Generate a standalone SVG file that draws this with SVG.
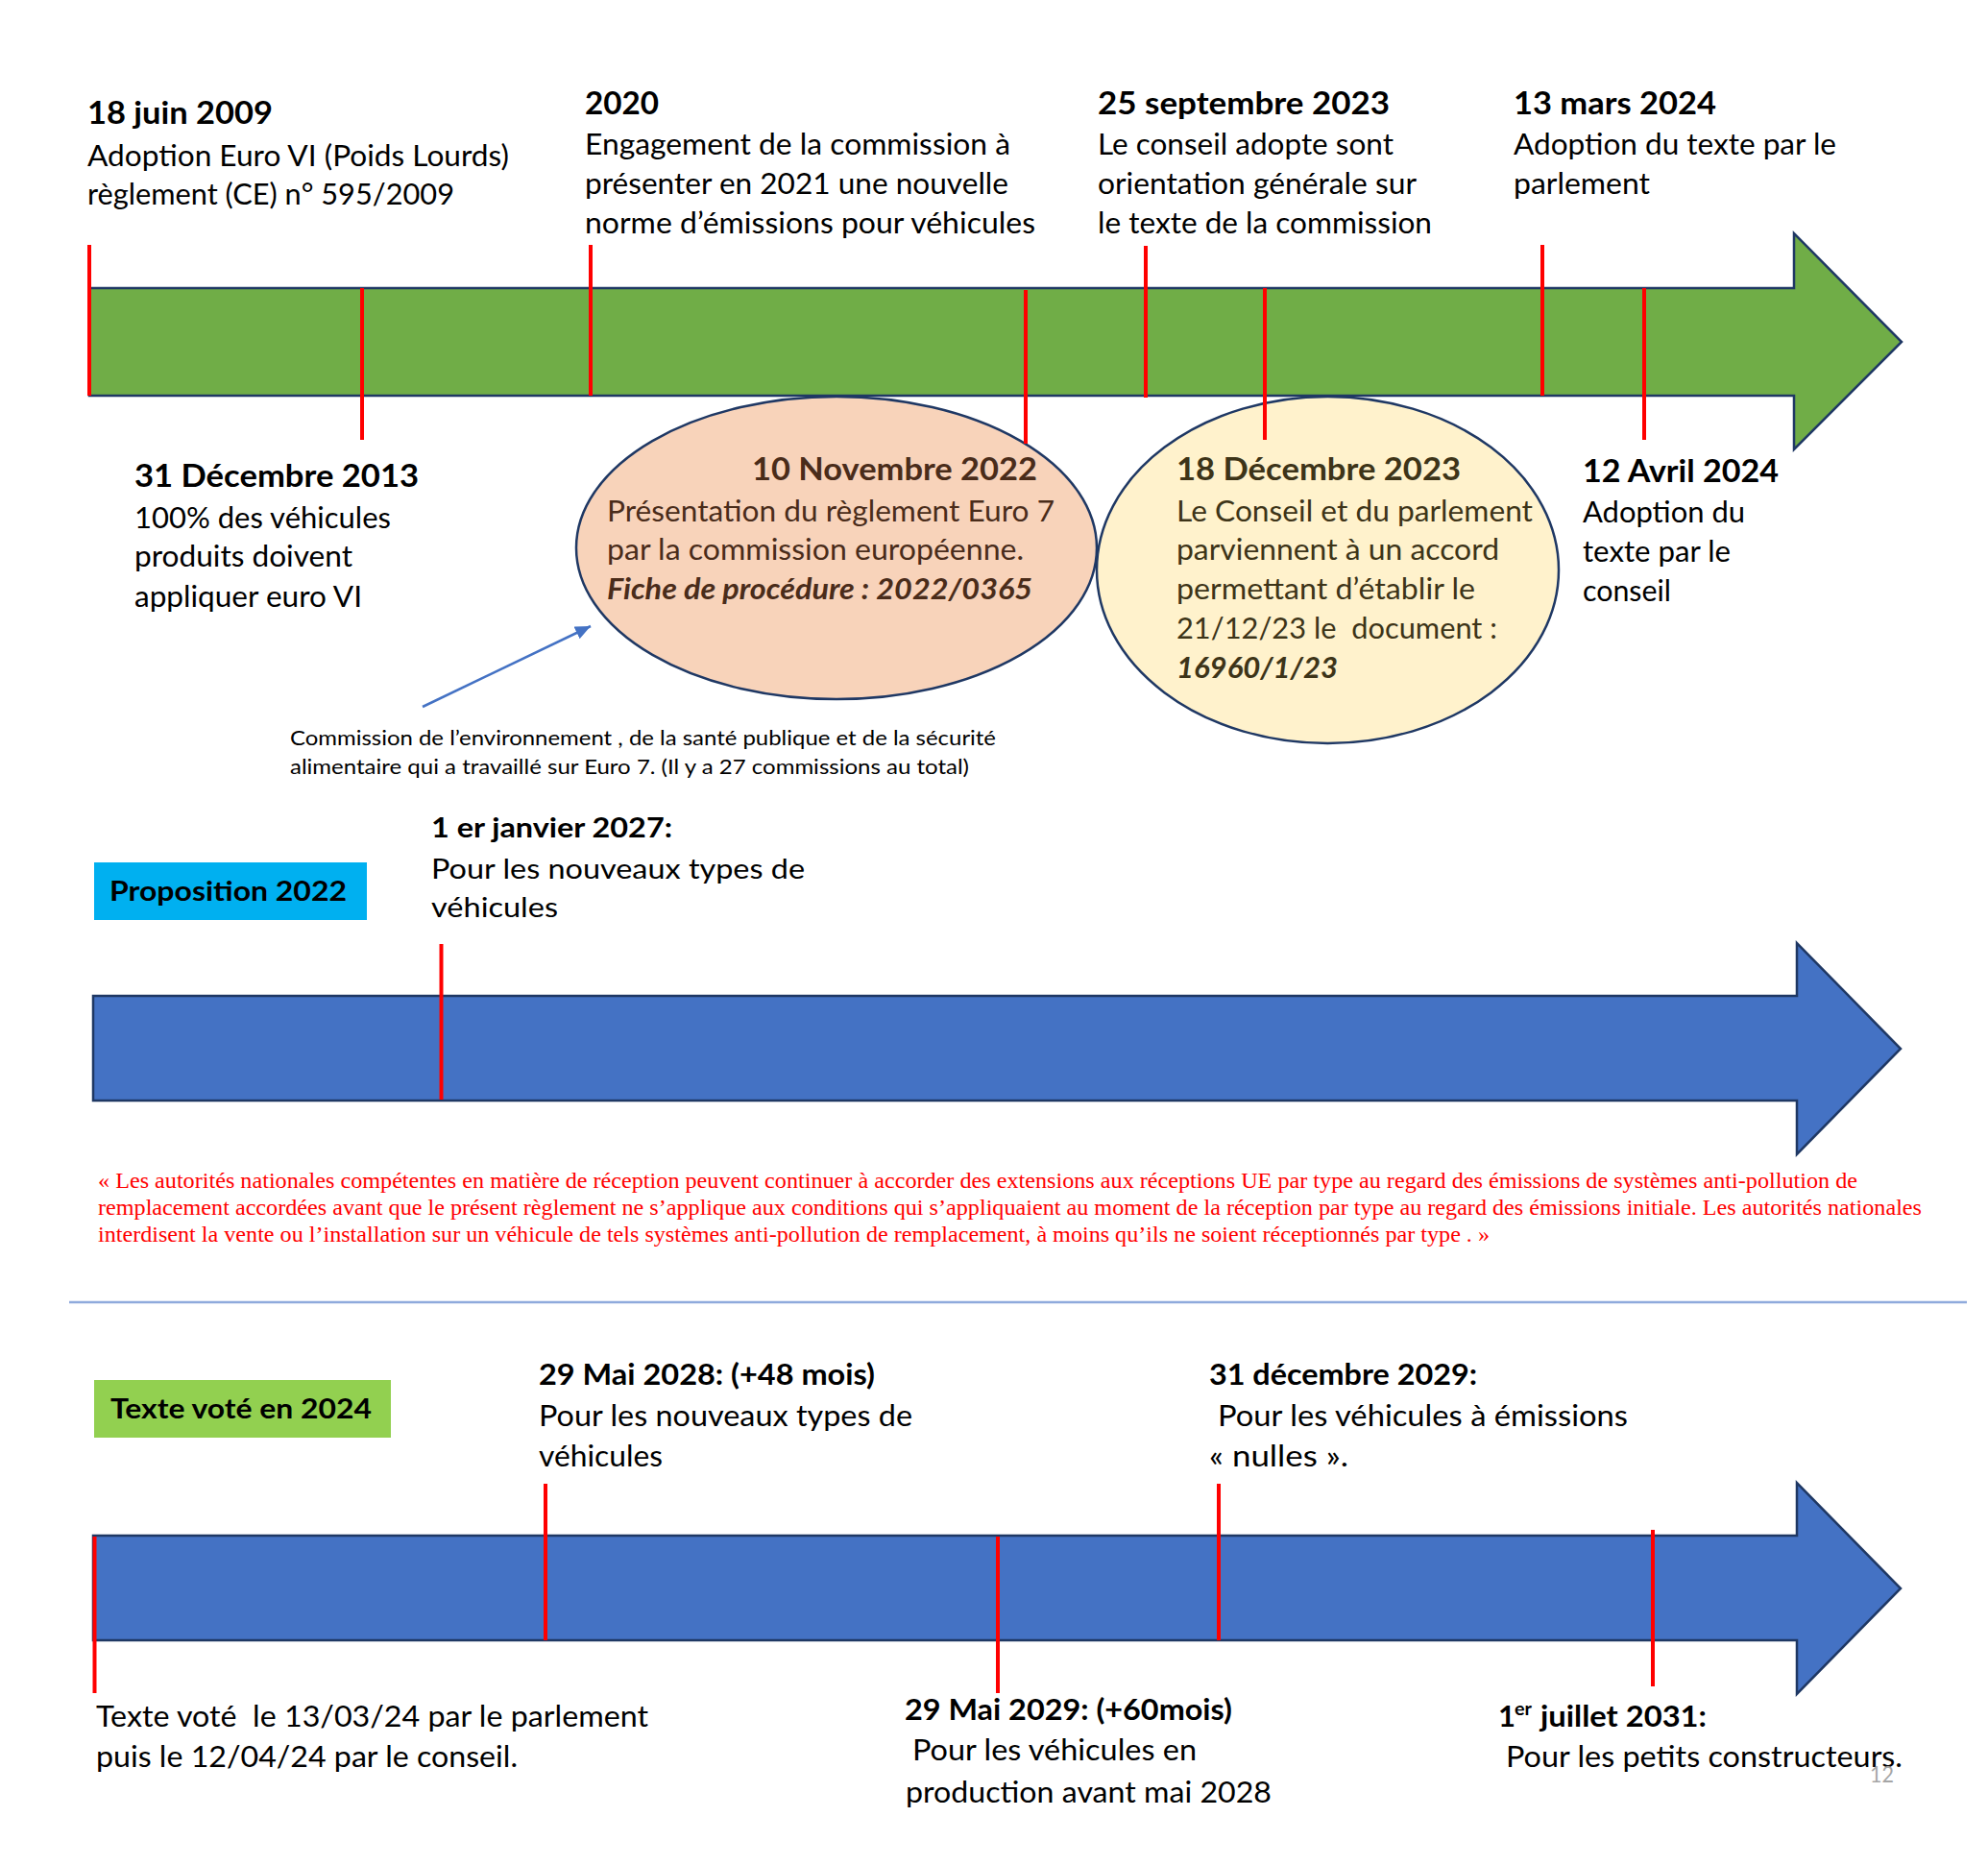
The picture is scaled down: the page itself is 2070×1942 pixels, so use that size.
<svg xmlns="http://www.w3.org/2000/svg" width="2070" height="1942" viewBox="0 0 2070 1942">
<defs>
<style>
.t{font-family:Lato,"Liberation Sans",sans-serif;fill:#000}
.ti{font-size:32px;font-weight:700}
.bd{font-size:30px}
.s2{font-size:28.5px}
.s3t{font-size:31px;font-weight:700}
.sm{font-size:22px}
.bx{font-size:28px;font-weight:700}
.bi{font-weight:700;font-style:italic}
.q{font-family:"Liberation Serif","Times New Roman",serif;font-size:22.5px;fill:#FF0000}
.tick{stroke:#FF0000;stroke-width:4;fill:none}
.arr{stroke:#1F3864;stroke-width:2.5;stroke-linejoin:miter}
.ell{stroke:#1F3864;stroke-width:2.5}
.sal{fill:#4A2C1A}
.yel{fill:#3D3418}
</style>
<marker id="ah" markerUnits="userSpaceOnUse" markerWidth="18" markerHeight="14" refX="16" refY="7" orient="auto">
<path d="M0,0 L16,7 L0,14 Z" fill="#4472C4"/>
</marker>
</defs>
<rect width="2070" height="1942" fill="#FFFFFF"/>

<!-- Timeline 1 (green) -->
<g id="timeline-green">
<path class="arr" d="M93,300 H1868 V243 L1980,356 L1868,468 V412 H93 Z" fill="#70AD47"/>
</g>

<g id="ellipse-nov2022">
<ellipse class="ell" cx="871" cy="570.5" rx="271" ry="157.5" fill="#F8D3BA"/>
<text class="t ti sal" x="783" y="500" textLength="297" lengthAdjust="spacingAndGlyphs">10 Novembre 2022</text>
<text class="t bd sal" x="632" y="543" textLength="466" lengthAdjust="spacingAndGlyphs">Présentation du règlement Euro 7</text>
<text class="t bd sal" x="632" y="583" textLength="434" lengthAdjust="spacingAndGlyphs">par la commission européenne.</text>
<text class="t bd bi sal" x="632" y="624" textLength="443" lengthAdjust="spacingAndGlyphs">Fiche de procédure : 2022/0365</text>
</g>

<g id="ellipse-dec2023">
<ellipse class="ell" cx="1382.5" cy="593.5" rx="240.5" ry="180.5" fill="#FFF2CC"/>
<text class="t ti yel" x="1225" y="500" textLength="296" lengthAdjust="spacingAndGlyphs">18 Décembre 2023</text>
<text class="t bd yel" x="1225" y="543" textLength="371" lengthAdjust="spacingAndGlyphs">Le Conseil et du parlement</text>
<text class="t bd yel" x="1225" y="583" textLength="336" lengthAdjust="spacingAndGlyphs">parviennent à un accord</text>
<text class="t bd yel" x="1225" y="624" textLength="311" lengthAdjust="spacingAndGlyphs">permettant d’établir le</text>
<text class="t bd yel" x="1225" y="665" textLength="334" lengthAdjust="spacingAndGlyphs">21/12/23 le&#160; document :</text>
<text class="t bd bi yel" x="1225" y="706" textLength="168" lengthAdjust="spacingAndGlyphs">16960/1/23</text>
</g>

<g id="ticks-green">
<line class="tick" x1="93" y1="255" x2="93" y2="412"/>
<line class="tick" x1="377" y1="300" x2="377" y2="458"/>
<line class="tick" x1="615" y1="255" x2="615" y2="412"/>
<line class="tick" x1="1068" y1="302" x2="1068" y2="462"/>
<line class="tick" x1="1193" y1="256" x2="1193" y2="414"/>
<line class="tick" x1="1317" y1="300" x2="1317" y2="458"/>
<line class="tick" x1="1606" y1="255" x2="1606" y2="412"/>
<line class="tick" x1="1712" y1="300" x2="1712" y2="458"/>
</g>

<g id="ev-2009">
<text class="t ti" x="91" y="129" textLength="193" lengthAdjust="spacingAndGlyphs">18 juin 2009</text>
<text class="t bd" x="91" y="173" textLength="439" lengthAdjust="spacingAndGlyphs">Adoption Euro VI (Poids Lourds)</text>
<text class="t bd" x="91" y="213" textLength="382" lengthAdjust="spacingAndGlyphs">règlement (CE) n° 595/2009</text>
</g>
<g id="ev-2020">
<text class="t ti" x="609" y="119" textLength="77" lengthAdjust="spacingAndGlyphs">2020</text>
<text class="t bd" x="609" y="161" textLength="443" lengthAdjust="spacingAndGlyphs">Engagement de la commission à</text>
<text class="t bd" x="609" y="202" textLength="441" lengthAdjust="spacingAndGlyphs">présenter en 2021 une nouvelle</text>
<text class="t bd" x="609" y="243" textLength="469" lengthAdjust="spacingAndGlyphs">norme d’émissions pour véhicules</text>
</g>
<g id="ev-sep2023">
<text class="t ti" x="1143" y="119" textLength="304" lengthAdjust="spacingAndGlyphs">25 septembre 2023</text>
<text class="t bd" x="1143" y="161" textLength="308" lengthAdjust="spacingAndGlyphs">Le conseil adopte sont</text>
<text class="t bd" x="1143" y="202" textLength="332" lengthAdjust="spacingAndGlyphs">orientation générale sur</text>
<text class="t bd" x="1143" y="243" textLength="348" lengthAdjust="spacingAndGlyphs">le texte de la commission</text>
</g>
<g id="ev-mar2024">
<text class="t ti" x="1576" y="119" textLength="211" lengthAdjust="spacingAndGlyphs">13 mars 2024</text>
<text class="t bd" x="1576" y="161" textLength="336" lengthAdjust="spacingAndGlyphs">Adoption du texte par le</text>
<text class="t bd" x="1576" y="202" textLength="142" lengthAdjust="spacingAndGlyphs">parlement</text>
</g>
<g id="ev-2013">
<text class="t ti" x="140" y="507" textLength="296" lengthAdjust="spacingAndGlyphs">31 Décembre 2013</text>
<text class="t bd" x="140" y="550" textLength="267" lengthAdjust="spacingAndGlyphs">100% des véhicules</text>
<text class="t bd" x="140" y="590" textLength="227" lengthAdjust="spacingAndGlyphs">produits doivent</text>
<text class="t bd" x="140" y="632" textLength="237" lengthAdjust="spacingAndGlyphs">appliquer euro VI</text>
</g>
<g id="ev-apr2024">
<text class="t ti" x="1648" y="502" textLength="204" lengthAdjust="spacingAndGlyphs">12 Avril 2024</text>
<text class="t bd" x="1648" y="544" textLength="169" lengthAdjust="spacingAndGlyphs">Adoption du</text>
<text class="t bd" x="1648" y="585" textLength="154" lengthAdjust="spacingAndGlyphs">texte par le</text>
<text class="t bd" x="1648" y="626" textLength="92" lengthAdjust="spacingAndGlyphs">conseil</text>
</g>
<g id="note-commission">
<text class="t sm" x="302" y="776" textLength="735" lengthAdjust="spacingAndGlyphs">Commission de l’environnement , de la santé publique et de la sécurité</text>
<text class="t sm" x="302" y="806" textLength="707" lengthAdjust="spacingAndGlyphs">alimentaire qui a travaillé sur Euro 7. (Il y a 27 commissions au total)</text>
</g>

<g id="connectors">
<line x1="440" y1="736" x2="615" y2="652" stroke="#4472C4" stroke-width="2.5" marker-end="url(#ah)"/>
</g>

<!-- Timeline 2 (Proposition 2022) -->
<g id="label-prop2022">
<rect x="98" y="898" width="284" height="60" fill="#00B0F0"/>
<text class="t bx" x="114" y="938" textLength="247" lengthAdjust="spacingAndGlyphs">Proposition 2022</text>
</g>
<g id="ev-jan2027">
<text class="t s2" font-weight="700" x="449" y="872" textLength="251" lengthAdjust="spacingAndGlyphs">1 er janvier 2027:</text>
<text class="t s2" x="449" y="915" textLength="389" lengthAdjust="spacingAndGlyphs">Pour les nouveaux types de</text>
<text class="t s2" x="449" y="955" textLength="132" lengthAdjust="spacingAndGlyphs">véhicules</text>
</g>
<g id="timeline-blue-1">
<path class="arr" d="M97,1037 H1871 V982 L1979,1092 L1871,1202 V1146 H97 Z" fill="#4472C4"/>
<line class="tick" x1="459.5" y1="983" x2="459.5" y2="1145"/>
</g>
<g id="quote">
<text class="q" x="102" y="1237" textLength="1832" lengthAdjust="spacingAndGlyphs">« Les autorités nationales compétentes en matière de réception peuvent continuer à accorder des extensions aux réceptions UE par type au regard des émissions de systèmes anti-pollution de</text>
<text class="q" x="102" y="1265" textLength="1899" lengthAdjust="spacingAndGlyphs">remplacement accordées avant que le présent règlement ne s’applique aux conditions qui s’appliquaient au moment de la réception par type au regard des émissions initiale. Les autorités nationales</text>
<text class="q" x="102" y="1293" textLength="1449" lengthAdjust="spacingAndGlyphs">interdisent la vente ou l’installation sur un véhicule de tels systèmes anti-pollution de remplacement, à moins qu’ils ne soient réceptionnés par type . »</text>
</g>
<line id="separator" x1="72" y1="1356" x2="2048" y2="1356" stroke="#8FAADC" stroke-width="2.5"/>

<!-- Timeline 3 (Texte voté en 2024) -->
<g id="label-vote2024">
<rect x="98" y="1437" width="309" height="60" fill="#92D050"/>
<text class="t bx" x="115" y="1477" textLength="272" lengthAdjust="spacingAndGlyphs">Texte voté en 2024</text>
</g>
<g id="ev-may2028">
<text class="t s3t" x="561" y="1442" textLength="350" lengthAdjust="spacingAndGlyphs">29 Mai 2028: (+48 mois)</text>
<text class="t bd" x="561" y="1485" textLength="389" lengthAdjust="spacingAndGlyphs">Pour les nouveaux types de</text>
<text class="t bd" x="561" y="1527" textLength="129" lengthAdjust="spacingAndGlyphs">véhicules</text>
</g>
<g id="ev-dec2029">
<text class="t s3t" x="1259" y="1442" textLength="279" lengthAdjust="spacingAndGlyphs">31 décembre 2029:</text>
<text class="t bd" x="1268" y="1485" textLength="427" lengthAdjust="spacingAndGlyphs">Pour les véhicules à émissions</text>
<text class="t bd" x="1259" y="1527" textLength="145" lengthAdjust="spacingAndGlyphs">« nulles ».</text>
</g>
<g id="timeline-blue-2">
<path class="arr" d="M97,1599 H1871 V1544 L1979,1654 L1871,1764 V1708 H97 Z" fill="#4472C4"/>
<line class="tick" x1="98.5" y1="1600" x2="98.5" y2="1763"/>
<line class="tick" x1="568" y1="1545" x2="568" y2="1708"/>
<line class="tick" x1="1039" y1="1600" x2="1039" y2="1763"/>
<line class="tick" x1="1269" y1="1545" x2="1269" y2="1708"/>
<line class="tick" x1="1721" y1="1593" x2="1721" y2="1756"/>
</g>
<g id="ev-vote">
<text class="t bd" x="100" y="1798" textLength="575" lengthAdjust="spacingAndGlyphs">Texte voté&#160; le 13/03/24 par le parlement</text>
<text class="t bd" x="100" y="1840" textLength="439" lengthAdjust="spacingAndGlyphs">puis le 12/04/24 par le conseil.</text>
</g>
<g id="ev-may2029">
<text class="t s3t" x="942" y="1791" textLength="341" lengthAdjust="spacingAndGlyphs">29 Mai 2029: (+60mois)</text>
<text class="t bd" x="950" y="1833" textLength="296" lengthAdjust="spacingAndGlyphs">Pour les véhicules en</text>
<text class="t bd" x="943" y="1877" textLength="381" lengthAdjust="spacingAndGlyphs">production avant mai 2028</text>
</g>
<g id="ev-jul2031">
<text class="t s3t" x="1560" y="1798">1</text>
<text class="t" font-size="19" font-weight="700" x="1577" y="1786" textLength="18" lengthAdjust="spacingAndGlyphs">er</text>
<text class="t s3t" x="1604" y="1798" textLength="173" lengthAdjust="spacingAndGlyphs">juillet 2031:</text>
<text class="t bd" x="1568" y="1840" textLength="413" lengthAdjust="spacingAndGlyphs">Pour les petits constructeurs.</text>
</g>
<text id="page-number" class="t" font-size="24" fill="#A6A6A6" style="fill:#A6A6A6" x="1947" y="1856" textLength="25" lengthAdjust="spacingAndGlyphs">12</text>
</svg>
